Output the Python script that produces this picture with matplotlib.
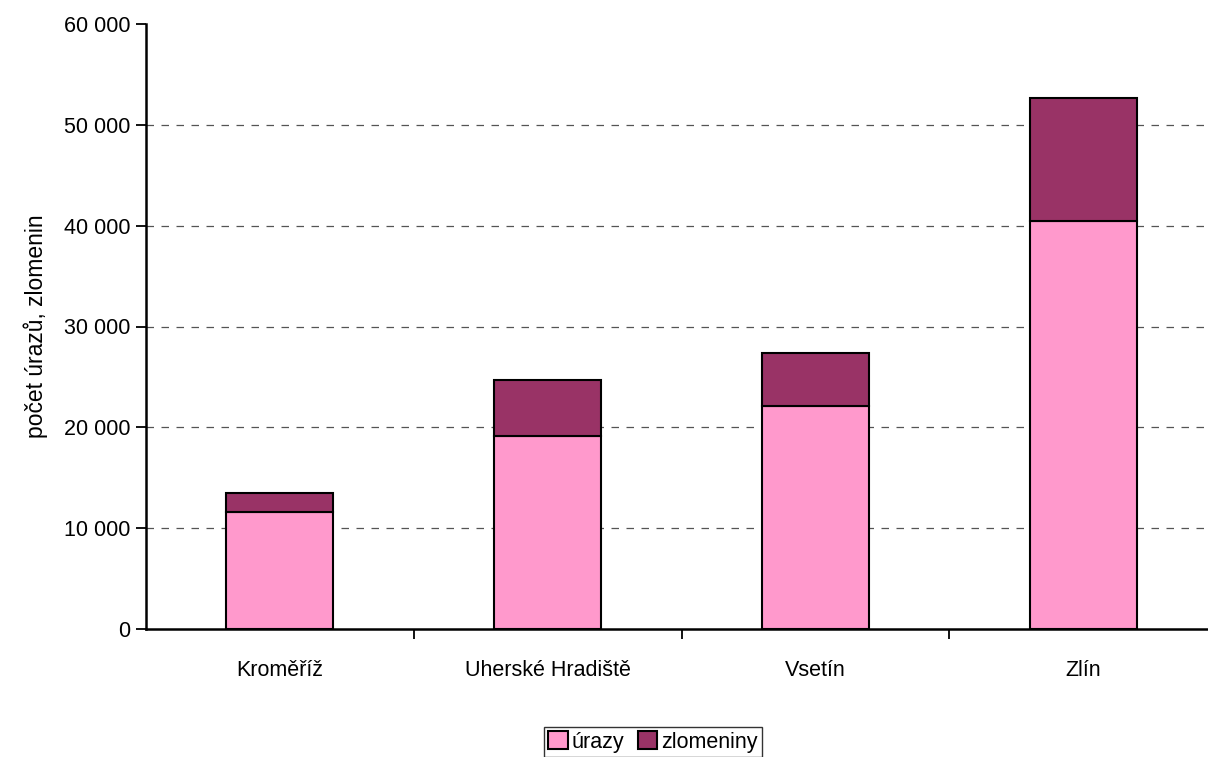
#!/usr/bin/env python3
# coding: utf-8

import matplotlib.pyplot as plt
import matplotlib.ticker as mticker
import numpy as np

plt.rcParams.update({
        'font.family' : ['Liberation Sans', 'DejaVu Sans'],
        'font.size'   : 15.5,
        })

districts  = ['Kroměříž', 'Uherské Hradiště', 'Vsetín', 'Zlín']
urazy      = [11600, 19100, 22100, 40500]
zlomeniny  = [1900, 5600, 5300, 12200]
yticks     = [0, 10000, 20000, 30000, 40000, 50000, 60000]


def fmt_thousands(v, pos):
  return '{:,.0f}'.format(v).replace(',', ' ')


def main():
  fig = plt.figure(figsize=(12.08, 7.57), dpi=100)
  ax = fig.add_axes([146/1208, 1 - 629/757, 1 - 146/1208, (629 - 24)/757])

  x = np.arange(len(districts))
  ax.bar(x, urazy, width=0.4, color='#FF99CC', edgecolor='black', lw=1.5, label='úrazy', zorder=3)
  ax.bar(x, zlomeniny, width=0.4, bottom=urazy, color='#993366', edgecolor='black', lw=1.5, label='zlomeniny', zorder=3)

  ax.set_xlim(-0.5, 3.466)
  ax.set_ylim(0, 60000)
  ax.set_yticks(yticks)
  ax.yaxis.set_major_formatter(mticker.FuncFormatter(fmt_thousands))
  for t in yticks[1:-1]:
    ax.axhline(t, color='#555555', lw=0.9, ls=(0, (6, 6)), zorder=1)

  ax.set_xticks(x)
  ax.set_xticklabels(districts)
  ax.set_xticks(x[:-1] + 0.5, minor=True)
  ax.tick_params(axis='x', which='major', length=0, pad=22)
  ax.tick_params(axis='x', which='minor', length=7, width=1.3, direction='out')
  ax.tick_params(axis='y', length=7, width=1.3, direction='out', pad=4)

  for s in ['top', 'right']:
    ax.spines[s].set_visible(False)
  for s in ['left', 'bottom']:
    ax.spines[s].set_linewidth(1.8)

  ax.set_ylabel('počet úrazů, zlomenin', labelpad=12, fontsize=16.5)

  leg = fig.legend(loc='center', bbox_to_anchor=(653/1208, 1 - 742/757), ncol=2,
                   frameon=True, fancybox=False, edgecolor='black', handlelength=0.9,
                   handleheight=0.9, handletextpad=0.2, columnspacing=0.6,
                   borderpad=0.2, fontsize=15.5)
  leg.get_frame().set_linewidth(1.0)

  plt.savefig('out.png', dpi=100)


if __name__ == "__main__":
  main()
